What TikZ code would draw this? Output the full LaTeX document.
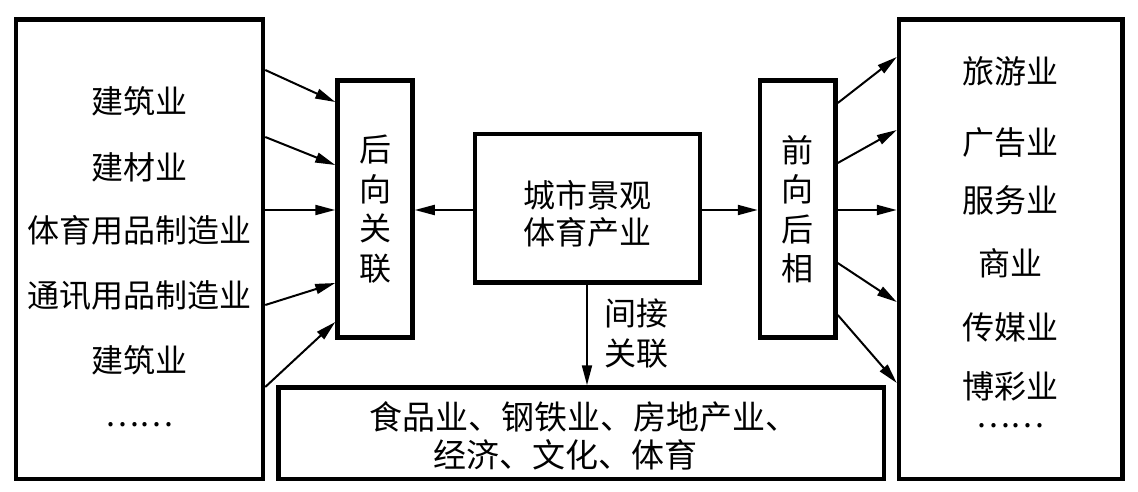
\documentclass[tikz,border=0pt]{standalone}
\usepackage{fontspec}
\setmainfont{Noto Sans CJK SC}
\usetikzlibrary{arrows.meta}
\begin{document}
\begin{tikzpicture}[x=1pt,y=-1pt,
  box/.style={draw, line width=4.5pt, inner sep=0pt},
  lbl/.style={inner sep=0pt, font=\fontsize{32}{39.5}\selectfont, align=center},
  item/.style={lbl, text height=28pt, text depth=4pt},
  dots/.style={lbl, text height=6pt, text depth=0pt},
  arr/.style={line width=2pt, -{Triangle[length=20pt,width=10pt]}}]
\useasboundingbox[fill=white] (0,0) rectangle (1138,492);
% boxes
\node[box, minimum width=247pt, minimum height=459.5pt] (L) at (139.5,249.25) {};
\node[box, lbl, minimum width=75pt, minimum height=257pt] (B) at (375,209) {后\\向\\关\\联};
\node[box, minimum width=225pt, minimum height=148.5pt] (C) at (587.5,208.25) {};
\node[box, lbl, minimum width=75.5pt, minimum height=257pt] (F) at (797.75,209) {前\\向\\后\\相};
\node[box, minimum width=223.5pt, minimum height=459.5pt] (R) at (1010.75,249.25) {};
\node[box, minimum width=605.5pt, minimum height=91.5pt] (D) at (581.25,433.25) {};
% texts
\node[lbl, font=\fontsize{32}{37}\selectfont] (ct) at (587,213.5) {城市景观\\体育产业};
\node[lbl, font=\fontsize{32}{40}\selectfont] (ind) at (636,333) {间接\\关联};
\node[item, font=\fontsize{33}{38}\selectfont] (d1) at (584,417) {食品业、钢铁业、房地产业、};
\node[item, font=\fontsize{33}{38}\selectfont] (d2) at (565,455) {经济、文化、体育};
\node[item] (l1) at (139.5,102) {建筑业};
\node[item] (l2) at (139.5,167) {建材业};
\node[item] (l3) at (139.5,230) {体育用品制造业};
\node[item] (l4) at (139.5,295) {通讯用品制造业};
\node[item] (l5) at (139.5,360) {建筑业};
\node[dots] (l6) at (139.5,423) {……};
\node[item] (r1) at (1010,72) {旅游业};
\node[item] (r2) at (1010,142) {广告业};
\node[item] (r3) at (1010,200) {服务业};
\node[item] (r4) at (1010,263) {商业};
\node[item] (r5) at (1010,327) {传媒业};
\node[item] (r6) at (1010,386) {博彩业};
\node[dots] (r7) at (1010,424) {……};
% arrows left -> back
\draw[arr] (L.east |- 0,70) -- (B.west |- 0,102);
\draw[arr] (L.east |- 0,137) -- (B.west |- 0,165);
\draw[arr] (L.east |- 0,210) -- (B.west |- 0,210);
\draw[arr] (L.east |- 0,305) -- (B.west |- 0,283);
\draw[arr] (L.east |- 0,387) -- (B.west |- 0,322);
% central arrows
\draw[arr] (C.west |- 0,210) -- (B.east |- 0,210);
\draw[arr] (C.east |- 0,210) -- (F.west |- 0,210);
\draw[arr] (C.south -| 587,0) -- (D.north -| 587,0);
% forward -> right
\draw[arr] (F.east |- 0,103) -- (R.west |- 0,57);
\draw[arr] (F.east |- 0,163) -- (R.west |- 0,130);
\draw[arr] (F.east |- 0,210) -- (R.west |- 0,210);
\draw[arr] (F.east |- 0,263) -- (R.west |- 0,302);
\draw[arr] (F.east |- 0,315) -- (R.west |- 0,383);
\end{tikzpicture}
\end{document}
